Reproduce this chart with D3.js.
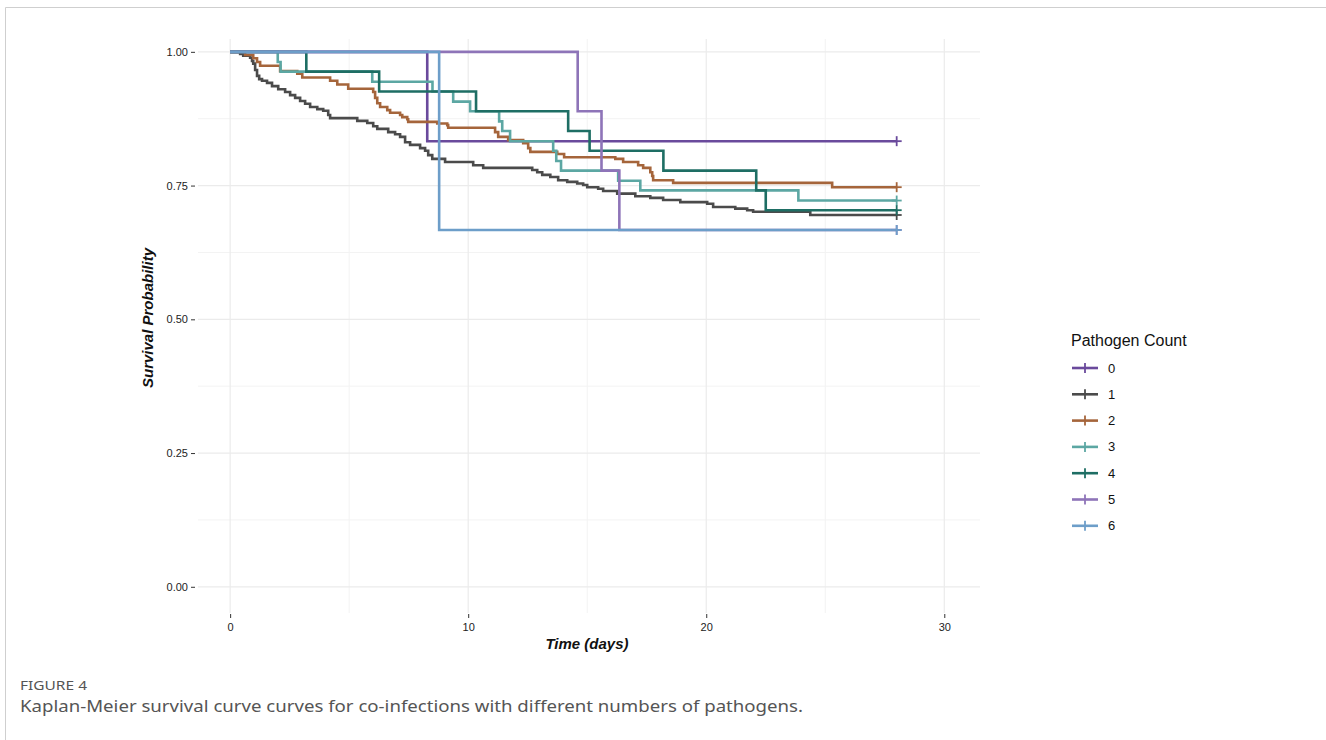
<!doctype html>
<html lang="en">

<head>
    <meta charset="utf-8">
    <title>Kaplan-Meier survival by pathogen count</title>
    <script src="https://cdn.jsdelivr.net/npm/d3@7"></script>
    <style>
        body {
            margin: 0;
            background: #fff;
        }

        svg {
            display: block;
            font-family: "Liberation Sans", Arial, sans-serif;
        }
    </style>
</head>

<body>
    <svg></svg>
    <script>
        var width = 1326;
        var height = 740;

        // group labels and colours
        var groups = ["0", "1", "2", "3", "4", "5", "6"];
        var colors = ["#6a4a9c", "#4b4b4b", "#a5653b", "#5ca7a3", "#1e6e64", "#8e74b8", "#6d9ec9"];
        var endTime = 28;

        // event times (days) and survival after each event
        var time0 = [8.28];
        var surv0 = [0.833];

        var time1 = [0.42, 0.55, 0.84, 0.92, 0.97, 1.05, 1.13, 1.22, 1.34, 1.55, 1.76, 2.02, 2.31, 2.52, 2.73, 2.94,
            3.15, 3.36, 3.66, 3.91, 4.12, 4.20, 5.34, 5.76, 6.01, 6.18, 6.64, 6.93, 7.14, 7.35, 7.56, 7.98, 8.19,
            8.32, 8.49, 9.03, 10.21, 10.63, 12.69, 12.90, 13.11, 13.45, 13.78, 14.16, 14.58, 14.83, 15.00, 15.46,
            15.67, 16.26, 17.02, 17.65, 18.19, 18.91, 20.04, 20.29, 21.22, 21.72, 21.97, 24.37];
        var surv1 = [0.996, 0.993, 0.989, 0.983, 0.978, 0.966, 0.955, 0.949, 0.946, 0.942, 0.936, 0.930, 0.925, 0.919,
            0.914, 0.908, 0.903, 0.897, 0.893, 0.890, 0.882, 0.876, 0.871, 0.867, 0.861, 0.856, 0.850, 0.846, 0.841,
            0.831, 0.826, 0.820, 0.815, 0.807, 0.800, 0.794, 0.788, 0.783, 0.779, 0.775, 0.770, 0.766, 0.760, 0.757,
            0.754, 0.751, 0.747, 0.744, 0.740, 0.735, 0.730, 0.727, 0.723, 0.719, 0.716, 0.710, 0.707, 0.704, 0.701,
            0.695];

        var time2 = [0.63, 0.97, 1.13, 1.26, 2.10, 2.82, 3.03, 4.20, 4.50, 4.96, 6.01, 6.09, 6.18, 6.30, 6.60, 6.72,
            7.14, 7.23, 7.44, 7.48, 8.70, 9.12, 9.16, 11.13, 11.26, 11.68, 12.31, 12.52, 12.61, 13.74, 14.03, 16.18,
            16.51, 17.14, 17.35, 17.65, 17.73, 17.77, 18.61, 25.29];
        var surv2 = [0.994, 0.988, 0.981, 0.974, 0.964, 0.959, 0.952, 0.946, 0.939, 0.931, 0.925, 0.914, 0.904, 0.897,
            0.891, 0.886, 0.882, 0.878, 0.874, 0.869, 0.866, 0.863, 0.858, 0.850, 0.841, 0.835, 0.829, 0.820, 0.813,
            0.809, 0.803, 0.800, 0.794, 0.788, 0.783, 0.775, 0.768, 0.760, 0.755, 0.747];

        var time3 = [2.00, 2.12, 5.97, 8.50, 9.37, 10.08, 11.30, 11.43, 11.76, 13.57, 13.70, 13.90, 16.30, 17.23, 23.87];
        var surv3 = [0.981, 0.963, 0.944, 0.926, 0.907, 0.889, 0.870, 0.852, 0.833, 0.815, 0.796, 0.778, 0.759, 0.741, 0.722];

        var time4 = [3.20, 6.26, 10.33, 14.20, 15.10, 18.20, 22.10, 22.50];
        var surv4 = [0.963, 0.926, 0.889, 0.852, 0.815, 0.778, 0.741, 0.704];

        var time5 = [14.60, 15.60, 16.35];
        var surv5 = [0.889, 0.778, 0.667];

        var time6 = [8.78];
        var surv6 = [0.667];

        var times = [time0, time1, time2, time3, time4, time5, time6];
        var survs = [surv0, surv1, surv2, surv3, surv4, surv5, surv6];

        // step points for each group
        var curves = groups.map(function (g, i) {
            var pts = [{ t: 0, s: 1 }];
            times[i].forEach(function (t, j) {
                pts.push({ t: t, s: survs[i][j] });
            });
            pts.push({ t: endTime, s: survs[i][survs[i].length - 1] });
            return { key: g, color: colors[i], points: pts };
        });

        var svg = d3.select('svg').attr('width', width).attr('height', height);

        // figure frame
        svg.append("path")
            .attr("d", "M5.5,740 V7.5 H1326")
            .attr("fill", "none")
            .attr("stroke", "#cfcfcf")
            .attr("stroke-width", 1);

        var xScale = d3.scaleLinear().domain([-1.35, 31.5]).range([198, 980]);
        var yScale = d3.scaleLinear().domain([-0.049, 1.024]).range([613, 39]);

        var grid = svg.append("g");

        // minor grid
        grid.selectAll(".minx")
            .data([5, 15, 25])
            .enter()
            .append("line")
            .attr("x1", function (d) { return xScale(d) })
            .attr("x2", function (d) { return xScale(d) })
            .attr("y1", 39)
            .attr("y2", 613)
            .attr("stroke", "#f3f3f3")
            .attr("stroke-width", 1);

        grid.selectAll(".miny")
            .data([0.125, 0.375, 0.625, 0.875])
            .enter()
            .append("line")
            .attr("x1", 198)
            .attr("x2", 980)
            .attr("y1", function (d) { return yScale(d) })
            .attr("y2", function (d) { return yScale(d) })
            .attr("stroke", "#f3f3f3")
            .attr("stroke-width", 1);

        // major grid
        grid.selectAll(".majx")
            .data([0, 10, 20, 30])
            .enter()
            .append("line")
            .attr("x1", function (d) { return xScale(d) })
            .attr("x2", function (d) { return xScale(d) })
            .attr("y1", 39)
            .attr("y2", 613)
            .attr("stroke", "#ebebeb")
            .attr("stroke-width", 1.2);

        grid.selectAll(".majy")
            .data([0, 0.25, 0.5, 0.75, 1])
            .enter()
            .append("line")
            .attr("x1", 198)
            .attr("x2", 980)
            .attr("y1", function (d) { return yScale(d) })
            .attr("y2", function (d) { return yScale(d) })
            .attr("stroke", "#ebebeb")
            .attr("stroke-width", 1.2);

        // axes
        var yAxis = d3.axisLeft(yScale)
            .tickValues([0, 0.25, 0.5, 0.75, 1])
            .tickFormat(d3.format(".2f"))
            .tickSize(4)
            .tickPadding(3);

        var gy = svg.append("g").attr("transform", "translate(195,0)").call(yAxis);
        gy.select(".domain").remove();
        gy.selectAll("line").attr("stroke", "#333");
        gy.selectAll("text").attr("font-size", "11px").attr("fill", "#222")
            .attr("font-family", "Liberation Sans, Arial, sans-serif");

        var xAxis = d3.axisBottom(xScale)
            .tickValues([0, 10, 20, 30])
            .tickSize(4)
            .tickPadding(5);

        var gx = svg.append("g").attr("transform", "translate(0,614)").call(xAxis);
        gx.select(".domain").remove();
        gx.selectAll("line").attr("stroke", "#333");
        gx.selectAll("text").attr("font-size", "11px").attr("fill", "#222")
            .attr("font-family", "Liberation Sans, Arial, sans-serif");

        // axis titles
        svg.append("text")
            .attr("x", 587)
            .attr("y", 649)
            .attr("text-anchor", "middle")
            .attr("font-size", "15px")
            .attr("font-weight", "bold")
            .attr("font-style", "italic")
            .attr("fill", "#111")
            .text("Time (days)");

        svg.append("text")
            .attr("transform", "translate(153,318) rotate(-90)")
            .attr("text-anchor", "middle")
            .attr("font-size", "15px")
            .attr("font-weight", "bold")
            .attr("font-style", "italic")
            .attr("fill", "#111")
            .text("Survival Probability");

        // survival curves
        svg.append("clipPath").attr("id", "panel")
            .append("rect").attr("x", 198).attr("y", 39).attr("width", 782).attr("height", 574);

        var line = d3.line()
            .x(function (d) { return xScale(d.t) })
            .y(function (d) { return yScale(d.s) })
            .curve(d3.curveStepAfter);

        var plot = svg.append("g").attr("clip-path", "url(#panel)");

        plot.selectAll(".km")
            .data(curves)
            .enter()
            .append("path")
            .attr("class", "km")
            .attr("d", function (d) { return line(d.points) })
            .attr("fill", "none")
            .attr("stroke", function (d) { return d.color })
            .attr("stroke-width", 2.6);

        // censor marks at the end of follow-up
        var marks = plot.selectAll(".cens")
            .data(curves)
            .enter()
            .append("g")
            .attr("transform", function (d) {
                var last = d.points[d.points.length - 1];
                return "translate(" + xScale(last.t) + "," + yScale(last.s) + ")";
            })
            .attr("stroke", function (d) { return d.color })
            .attr("stroke-width", 1.8);
        marks.append("line").attr("x1", -5).attr("x2", 5);
        marks.append("line").attr("y1", -5).attr("y2", 5);

        // legend
        var legend = svg.append("g");
        legend.append("text")
            .attr("x", 1071)
            .attr("y", 346)
            .attr("font-size", "16px")
            .attr("fill", "#111")
            .text("Pathogen Count");

        var items = legend.selectAll(".item")
            .data(curves)
            .enter()
            .append("g")
            .attr("transform", function (d, i) { return "translate(1072," + (368 + i * 26.3) + ")" });

        items.append("line")
            .attr("x1", 0).attr("x2", 26)
            .attr("stroke", function (d) { return d.color })
            .attr("stroke-width", 2.6);
        items.append("line")
            .attr("x1", 13).attr("x2", 13).attr("y1", -5).attr("y2", 5)
            .attr("stroke", function (d) { return d.color })
            .attr("stroke-width", 1.8);
        items.append("text")
            .attr("x", 36)
            .attr("y", 4.5)
            .attr("font-size", "13px")
            .attr("fill", "#111")
            .text(function (d) { return d.key });

        // caption
        svg.append("text")
            .attr("x", 20)
            .attr("y", 690)
            .attr("font-family", "'Noto Sans', 'Open Sans', sans-serif")
            .attr("font-size", "13px")
            .attr("fill", "#555")
            .attr("textLength", 67)
            .attr("lengthAdjust", "spacingAndGlyphs")
            .text("FIGURE 4");

        svg.append("text")
            .attr("x", 20)
            .attr("y", 712)
            .attr("font-family", "'Noto Sans', 'Open Sans', sans-serif")
            .attr("font-size", "17px")
            .attr("fill", "#555")
            .attr("textLength", 783)
            .attr("lengthAdjust", "spacingAndGlyphs")
            .text("Kaplan-Meier survival curve curves for co-infections with different numbers of pathogens.");
    </script>

</body>

</html>
